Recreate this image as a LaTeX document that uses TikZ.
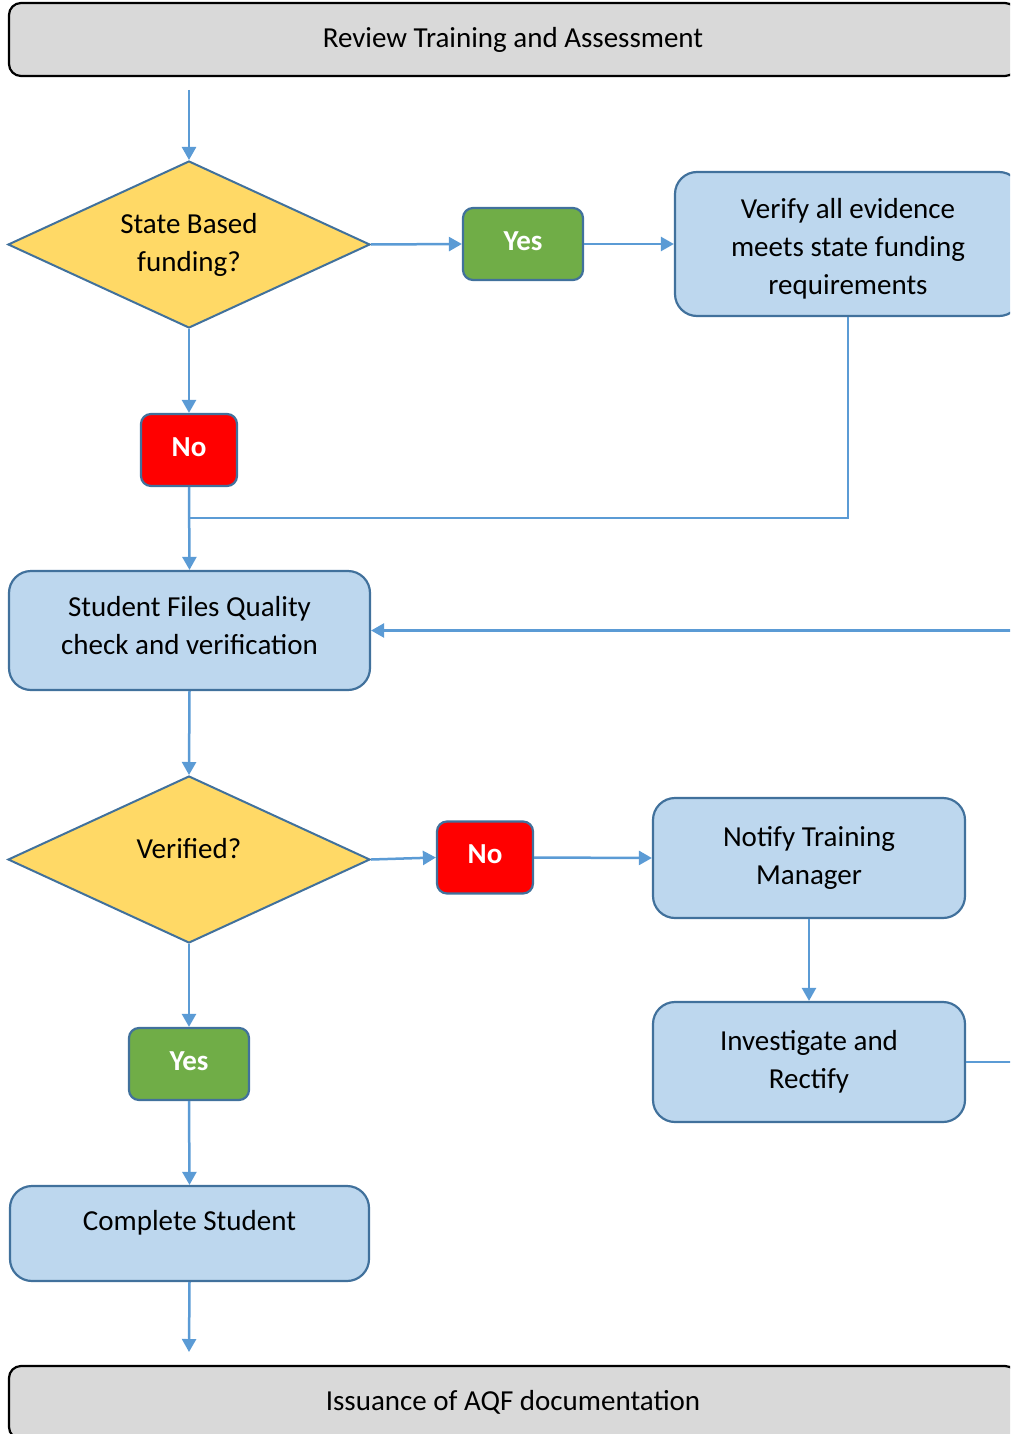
\documentclass[tikz,border=0pt]{standalone}
\usepackage{fontspec}
\setmainfont{Carlito}
\usetikzlibrary{shapes.geometric,arrows.meta}

\definecolor{lineblue}{HTML}{5B9BD5}
\definecolor{edgeblue}{HTML}{41719C}
\definecolor{boxblue}{HTML}{BDD7EE}
\definecolor{decyellow}{HTML}{FFD966}
\definecolor{yesgreen}{HTML}{70AD47}
\definecolor{nored}{HTML}{FF0000}
\definecolor{bargray}{HTML}{D9D9D9}

\tikzset{
  base/.style={font=\fontsize{29}{38}\selectfont, align=center, inner sep=0pt},
  bar/.style={base, draw=black, line width=2.2pt, fill=bargray, rounded corners=12pt,
    minimum width=1008pt, minimum height=73pt},
  stepbox/.style={base, draw=edgeblue, line width=2.2pt, fill=boxblue, rounded corners=22pt},
  choice/.style={base, diamond, aspect=2.17, draw=edgeblue, line width=2pt, fill=decyellow,
    minimum width=362pt, minimum height=167pt},
  tag/.style={base, font=\fontsize{29}{38}\selectfont\bfseries, text=white, draw=edgeblue,
    line width=2.2pt, rounded corners=10pt, minimum height=72pt, text depth=6pt},
  yestag/.style={tag, fill=yesgreen, minimum width=120pt},
  notag/.style={tag, fill=nored, minimum width=96pt},
  link/.style={draw=lineblue, line width=2.5pt, -{Triangle[length=13pt,width=14pt]}},
  plain/.style={draw=lineblue, line width=2.5pt},
}

\begin{document}
\begin{tikzpicture}[x=1pt,y=-1pt]
  \useasboundingbox (0,0) rectangle (1010,1434);
  \clip (0,0) rectangle (1010,1434);

  % header and footer bars
  \node[bar] (review) at (513,39.5) {Review Training and Assessment};
  \node[bar] (issue) at (513,1402.5) {Issuance of AQF documentation};

  % funding decision
  \node[choice] (fund) at (189,244.5) {State Based\\funding?};
  \node[yestag] (yes1) at (523,244) {Yes};
  \node[stepbox, minimum width=346pt, minimum height=144pt] (verify) at (848,244)
    {\rule{0pt}{12pt}\\[-20pt]Verify all evidence\\meets state funding\\requirements};
  \node[notag] (no1) at (189,450) {No};

  % quality check
  \node[stepbox, minimum width=361pt, minimum height=119pt] (check) at (189.5,630.5)
    {Student Files Quality\\check and verification\\[-28pt]\rule{0pt}{1pt}};

  % verification decision
  \node[choice, text depth=23pt] (verified) at (189,859.5) {Verified?};
  \node[notag] (no2) at (485,857.5) {No};
  \node[stepbox, minimum width=312pt, minimum height=120pt] (notify) at (809,858)
    {Notify Training\\Manager};
  \node[stepbox, minimum width=312pt, minimum height=120pt] (fix) at (809,1062)
    {Investigate and\\Rectify};
  \node[yestag] (yes2) at (189,1064) {Yes};
  \node[stepbox, minimum width=359pt, minimum height=95pt, text depth=26pt] (complete)
    at (189.5,1233.5) {Complete Student};

  % free ends and bends
  \coordinate (start) at (189,90);
  \coordinate (join) at (189,518);
  \coordinate (loop) at (1040,630.5);
  \coordinate (finish) at (189,1352);

  % connectors
  \draw[link] (start) -- (fund.north);
  \draw[link] (fund.east) -- (yes1.west);
  \draw[link] (yes1.east) -- (verify.west);
  \draw[link] (fund.south) -- (no1.north);
  \draw[link] (no1.south) -- (check.north);
  \draw[plain] (verify.south) |- (join);
  \draw[link] (check.south) -- (verified.north);
  \draw[link] (verified.east) -- (no2.west);
  \draw[link] (no2.east) -- (notify.west);
  \draw[link] (notify.south) -- (fix.north);
  \draw[link] (fix.east) -| (loop) -- (check.east);
  \draw[link] (verified.south) -- (yes2.north);
  \draw[link] (yes2.south) -- (complete.north);
  \draw[link] (complete.south) -- (finish);
\end{tikzpicture}
\end{document}
